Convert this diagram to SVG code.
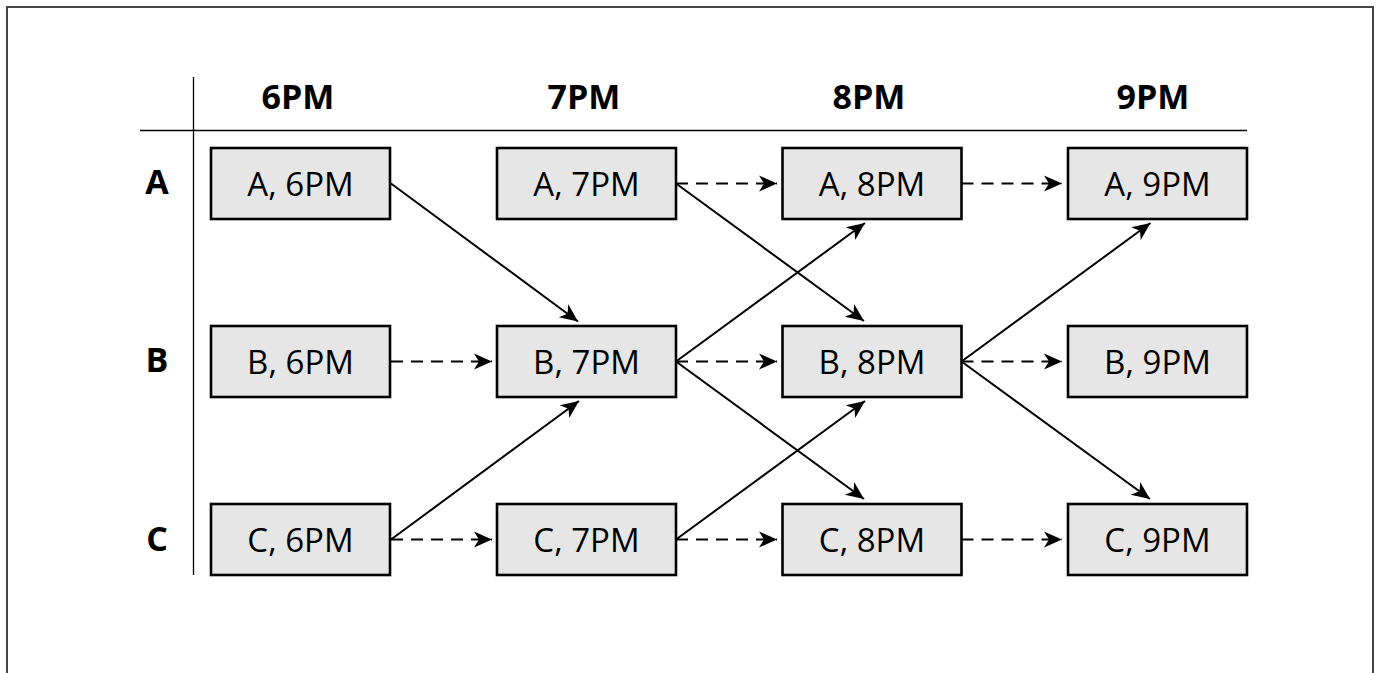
<svg xmlns="http://www.w3.org/2000/svg" width="1377" height="673" viewBox="0 0 1377 673">
<style>
.frame{fill:#fff;stroke:#444;stroke-width:2}
.grid{stroke:#000;stroke-width:1.3;fill:none}
.box{fill:#e6e6e6;stroke:#000;stroke-width:2.6}
.lbl{font-family:"Open Sans","Noto Sans",sans-serif;font-size:33px;fill:#000;text-anchor:middle}
.hdr{font-family:"Open Sans","Noto Sans",sans-serif;font-size:34px;font-weight:bold;fill:#000;text-anchor:middle}
.solid{stroke:#000;stroke-width:2;fill:none;marker-end:url(#ah)}
.dash{stroke:#000;stroke-width:2;fill:none;stroke-dasharray:12 8;marker-end:url(#ah)}
</style>
<defs>
<marker id="ah" markerUnits="userSpaceOnUse" markerWidth="20" markerHeight="18" refX="18" refY="8" orient="auto" overflow="visible">
<path d="M0,0 L18,8 L0,16 L5,8 z" fill="#000"/>
</marker>
</defs>
<rect class="frame" x="7" y="7" width="1366" height="700"/>
<g id="grid">
<line class="grid" x1="193.5" y1="77" x2="193.5" y2="575"/>
<line class="grid" x1="140" y1="130.5" x2="1247" y2="130.5"/>
</g>
<g id="headers">
<text class="hdr" x="298" y="109">6PM</text>
<text class="hdr" x="584" y="109">7PM</text>
<text class="hdr" x="869" y="109">8PM</text>
<text class="hdr" x="1153" y="109">9PM</text>
<text class="hdr" x="157" y="194">A</text>
<text class="hdr" x="157" y="372">B</text>
<text class="hdr" x="157" y="551">C</text>
</g>
<g id="connectors">
<line class="dash" x1="391" y1="361.5" x2="492" y2="361.5"/>
<line class="dash" x1="391" y1="539.5" x2="492" y2="539.5"/>
<line class="dash" x1="676" y1="183.5" x2="777" y2="183.5"/>
<line class="dash" x1="676" y1="361.5" x2="777" y2="361.5"/>
<line class="dash" x1="676" y1="539.5" x2="777" y2="539.5"/>
<line class="dash" x1="961.5" y1="183.5" x2="1062" y2="183.5"/>
<line class="dash" x1="961.5" y1="361.5" x2="1062" y2="361.5"/>
<line class="dash" x1="961.5" y1="539.5" x2="1062" y2="539.5"/>
<line class="solid" x1="391" y1="183.5" x2="578" y2="321.5"/>
<line class="solid" x1="391" y1="539.5" x2="579" y2="401"/>
<line class="solid" x1="676" y1="183.5" x2="864" y2="321"/>
<line class="solid" x1="676" y1="361.5" x2="865" y2="223"/>
<line class="solid" x1="676" y1="361.5" x2="864" y2="499"/>
<line class="solid" x1="676" y1="539.5" x2="865" y2="401"/>
<line class="solid" x1="961.5" y1="361.5" x2="1150.5" y2="223"/>
<line class="solid" x1="961.5" y1="361.5" x2="1150" y2="499"/>
</g>
<g id="n-a6"><rect class="box" x="211" y="148" width="179" height="71"/><text class="lbl" x="300.5" y="196">A, 6PM</text></g>
<g id="n-a7"><rect class="box" x="497" y="148" width="179" height="71"/><text class="lbl" x="586.5" y="196">A, 7PM</text></g>
<g id="n-a8"><rect class="box" x="782.5" y="148" width="179" height="71"/><text class="lbl" x="872" y="196">A, 8PM</text></g>
<g id="n-a9"><rect class="box" x="1068" y="148" width="179" height="71"/><text class="lbl" x="1157.5" y="196">A, 9PM</text></g>
<g id="n-b6"><rect class="box" x="211" y="326" width="179" height="71"/><text class="lbl" x="300.5" y="374">B, 6PM</text></g>
<g id="n-b7"><rect class="box" x="497" y="326" width="179" height="71"/><text class="lbl" x="586.5" y="374">B, 7PM</text></g>
<g id="n-b8"><rect class="box" x="782.5" y="326" width="179" height="71"/><text class="lbl" x="872" y="374">B, 8PM</text></g>
<g id="n-b9"><rect class="box" x="1068" y="326" width="179" height="71"/><text class="lbl" x="1157.5" y="374">B, 9PM</text></g>
<g id="n-c6"><rect class="box" x="211" y="504" width="179" height="71"/><text class="lbl" x="300.5" y="552">C, 6PM</text></g>
<g id="n-c7"><rect class="box" x="497" y="504" width="179" height="71"/><text class="lbl" x="586.5" y="552">C, 7PM</text></g>
<g id="n-c8"><rect class="box" x="782.5" y="504" width="179" height="71"/><text class="lbl" x="872" y="552">C, 8PM</text></g>
<g id="n-c9"><rect class="box" x="1068" y="504" width="179" height="71"/><text class="lbl" x="1157.5" y="552">C, 9PM</text></g>
</svg>
